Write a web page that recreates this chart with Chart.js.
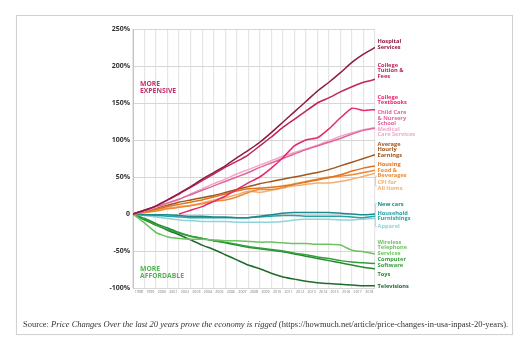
<!DOCTYPE html>
<html>
<head>
<meta charset="utf-8">
<script src="https://cdn.jsdelivr.net/npm/chart.js@4.4.1/dist/chart.umd.min.js"></script>
<style>
  html, body { margin:0; padding:0; background:#fff; }
  #wrap { position:relative; width:519px; height:342px; overflow:hidden; }
  #frame { position:absolute; left:16px; top:15px; width:495px; height:318px; border:1px solid #d2d2d2; box-shadow:0 0 1px rgba(0,0,0,0.08); }
  #c { position:absolute; left:0; top:0; }
  #src { position:absolute; left:23px; top:319px; font-family:"Liberation Serif","Times New Roman",serif; font-size:8.5px; line-height:10px; color:#333; white-space:nowrap; }
</style>
</head>
<body>
<div id="wrap">
  <div id="frame"></div>
  <canvas id="c" width="519" height="342"></canvas>
  <div id="src">Source: <i>Price Changes Over the last 20 years prove the economy is rigged</i> (https://howmuch.net/article/price-changes-in-usa-inpast-20-years).</div>
</div>
<script>
// x positions: start of each year; the final point (2019) is the end of 2018
const years = [1998,1999,2000,2001,2002,2003,2004,2005,2006,2007,2008,2009,2010,2011,2012,2013,2014,2015,2016,2017,2018,2019];
const yearLabels = ['1998','1999','2000','2001','2002','2003','2004','2005','2006','2007','2008','2009','2010','2011','2012','2013','2014','2015','2016','2017','2018'];
const yTicks = [-100,-50,0,50,100,150,200,250];

// % change in price since January 1998
const hospital   = [0,5,11,19,28,37,47,56,65,76,86,97,110,124,138,152,166,178,191,205,216,225];
const tuition    = [0,5,11,19,27,36,45,54,63,71,80,92,104,117,128,139,150,157,165,172,178,182];
const textbooks  = [null,null,null,null,0,5,10,17,24,33,42,50,62,76,92,100,103,115,130,143,140,141];
const childCare  = [0,5,10,15,20,26,32,38,44,50,56,63,69,75,81,87,92,97,102,108,113,116];
const medical    = [0,4,9,14,20,27,34,41,47,54,60,66,72,78,83,88,93,99,105,110,114,117];
const earnings   = [0,4,8,12,16,19,22,25,29,33,37,41,44,47,50,53,56,60,65,70,75,80];
const housing    = [0,3,6,10,13,16,19,23,27,31,34,35,36,38,40,43,46,49,53,58,62,65];
const food       = [0,2,4,7,9,11,14,17,19,23,29,33,33,36,41,44,47,50,51,53,56,59];
const cpi        = [0,2,5,8,10,12,15,19,22,26,31,29,32,35,38,40,42,42,44,47,51,55];
const newCars    = [0,-1,-1,-1,-2,-3,-3,-4,-4,-5,-5,-3,-1,1,2,2,2,2,1,0,-1,0];
const furnishing = [0,-1,-2,-3,-4,-5,-5,-5,-5,-5,-5,-4,-3,-2,-2,-3,-3,-3,-3,-4,-5,-3];
const apparel    = [0,-2,-4,-6,-8,-9,-10,-10,-10,-11,-11,-11,-11,-10,-8,-7,-7,-7,-8,-8,-7,-6];
const wireless   = [0,-12,-25,-31,-33,-34,-34,-35,-36,-36,-37,-38,-38,-39,-40,-40,-41,-41,-42,-49,-51,-54];
const software   = [0,-8,-15,-21,-26,-30,-33,-36,-38,-41,-44,-46,-48,-50,-53,-55,-58,-60,-63,-65,-66,-67];
const toys       = [0,-6,-13,-19,-25,-30,-33,-36,-39,-42,-45,-47,-49,-51,-54,-57,-60,-63,-66,-69,-72,-74];
const tvs        = [0,-8,-15,-22,-28,-35,-42,-48,-55,-62,-69,-74,-80,-85,-88,-91,-93,-94,-95,-96,-97,-97];

const seriesNames = ['Hospital Services','College Tuition & Fees','College Textbooks','Child Care & Nursery School',
  'Medical Care Services','Average Hourly Earnings','Housing','Food & Beverages','CPI for All Items','New cars',
  'Household Furnishings','Apparel','Wireless Telephone Services','Computer Software','Toys','Televisions'];
const seriesValues = [hospital,tuition,textbooks,childCare,medical,earnings,housing,food,cpi,newCars,furnishing,apparel,wireless,software,toys,tvs];

// styling / layout (kept apart from the data)
const colors = ['#8e1b45','#c0245e','#e8276f','#e4649c','#f0a8c6','#a0561c','#e07420','#ee8a35','#f4ae6e',
  '#1b8a8f','#27a2a6','#8fd3da','#6cc35f','#34a03c','#268a30','#1e6b2b'];
const labelLines = [['Hospital','Services'],['College','Tuition &','Fees'],['College','Textbooks'],['Child Care','& Nursery','School'],
  ['Medical','Care Services'],['Average','Hourly','Earnings'],['Housing'],['Food &','Beverages'],['CPI for','All Items'],['New cars'],
  ['Household','Furnishings'],['Apparel'],['Wireless','Telephone','Services'],['Computer','Software'],['Toys'],['Televisions']];
const labelAnchor = [233,201,158,137,114.5,94.6,67,59.5,42.8,13,1,-17,-38,-62,-81,-98]; // value at first text line

const datasets = seriesValues.map((vals, i) => ({
  label: seriesNames[i],
  data: years.map((yr, k) => ({x: yr, y: vals[k]})),
  borderColor: colors[i],
  backgroundColor: colors[i],
  borderWidth: 1.5,
  pointRadius: 0,
  tension: 0.15,
  spanGaps: false
}));

const annot = {
  id: 'annot',
  afterDraw(chart) {
    const {ctx, chartArea: a, scales: {y}} = chart;
    ctx.save();
    ctx.textBaseline = 'middle';
    ctx.textAlign = 'left';
    // brackets
    ctx.strokeStyle = '#c8c8c8';
    ctx.lineWidth = 0.8;
    const bracket = (v0, v1) => {
      const y0 = y.getPixelForValue(v0), y1 = y.getPixelForValue(v1), x = a.right + 0.5;
      ctx.beginPath();
      ctx.moveTo(x + 1.5, y0); ctx.lineTo(x, y0); ctx.lineTo(x, y1); ctx.lineTo(x + 1.5, y1);
      ctx.stroke();
    };
    bracket(51, 38);
    bracket(14, -17);
    // series labels
    ctx.font = '700 5.7px "Open Sans"';
    labelLines.forEach((lines, i) => {
      ctx.fillStyle = colors[i];
      const y0 = y.getPixelForValue(labelAnchor[i]);
      lines.forEach((t, j) => ctx.fillText(t, a.right + 2.5, y0 + j * 5.6));
    });
    // region notes
    ctx.font = '700 6.8px "Open Sans"';
    ctx.fillStyle = '#c2336b';
    ctx.fillText('MORE', a.left + 7, y.getPixelForValue(176));
    ctx.fillText('EXPENSIVE', a.left + 7, y.getPixelForValue(166));
    ctx.fillStyle = '#55b351';
    ctx.fillText('MORE', a.left + 7, y.getPixelForValue(-75));
    ctx.fillText('AFFORDABLE', a.left + 7, y.getPixelForValue(-84.5));
    ctx.restore();
  }
};

new Chart(document.getElementById('c'), {
  type: 'line',
  data: { datasets },
  options: {
    responsive: false,
    devicePixelRatio: 1,
    animation: false,
    events: [],
    layout: { padding: { left: 93, right: 144, top: 29, bottom: 44 } },
    plugins: { legend: { display: false }, tooltip: { enabled: false } },
    scales: {
      x: {
        type: 'linear', min: 1998, max: 2019,
        afterBuildTicks: s => { s.ticks = yearLabels.map(l => ({ value: Number(l) + 0.5 })); },
        afterFit: s => { s.height = 10; },
        grid: { offset: true, color: '#e6e6e6', lineWidth: 1.2, drawTicks: false },
        border: { display: false },
        ticks: {
          autoSkip: false, maxRotation: 0, padding: 2, color: '#777',
          font: { family: 'Open Sans', size: 3.6 },
          callback: v => yearLabels[Math.round(v - 0.5) - 1998]
        }
      },
      y: {
        min: -100, max: 250,
        afterBuildTicks: s => { s.ticks = yTicks.map(v => ({ value: v })); },
        afterFit: s => { s.width = 40; },
        grid: { color: '#d6d6d6', lineWidth: 1, drawTicks: false },
        border: { display: true, color: '#c4c4c4', width: 1 },
        ticks: {
          padding: 3, color: '#333',
          font: { family: 'Open Sans', size: 7, weight: '700' },
          callback: v => v === 0 ? '0' : v + '%'
        }
      }
    }
  },
  plugins: [annot]
});
</script>
</body>
</html>
